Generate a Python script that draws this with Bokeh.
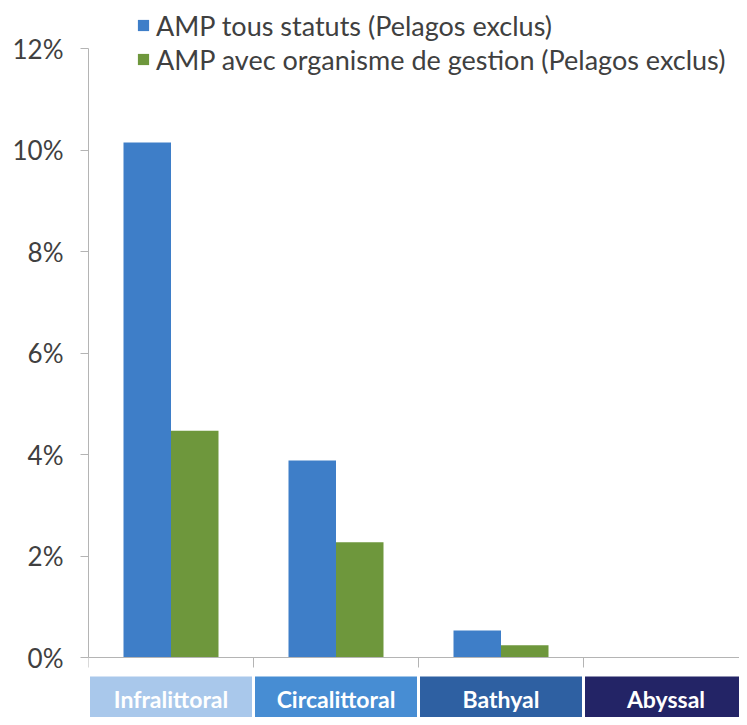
from bokeh.plotting import figure
from bokeh.models import Range1d, LinearAxis, FixedTicker, Legend, LegendItem, Span
from bokeh.core.properties import value
from bokeh.embed import file_html
from bokeh.resources import INLINE

# ---- data ----
categories = ["Infralittoral", "Circalittoral", "Bathyal", "Abyssal"]
amp_tous_statuts = [10.15, 3.88, 0.53, 0.0]
amp_avec_gestion = [4.47, 2.27, 0.24, 0.0]
series_names = ["AMP tous statuts (Pelagos exclus)",
                "AMP avec organisme de gestion (Pelagos exclus)"]
y_ticks = [0, 2, 4, 6, 8, 10, 12]
y_tick_labels = ["0%", "2%", "4%", "6%", "8%", "10%", "12%"]

# ---- styles ----
blue = "#3e7ec8"
green = "#6e973c"
band_colors = ["#a9c8eb", "#478dd3", "#2e60a2", "#232466"]
text_color = "#404040"
axis_color = "#b4b4b4"

W, H = 739, 717
LEFT = 88
PX_X = 165.0          # pixels per category
PX_Y = 50.75          # pixels per percent
ZERO_Y = 657          # figure pixel row of 0%
x_end = (W - LEFT) / PX_X
y_end = ZERO_Y / PX_Y
y_start = -(H - ZERO_Y) / PX_Y

p = figure(width=W, height=H, x_range=Range1d(0, x_end), y_range=Range1d(y_start, y_end),
           x_axis_type=None, y_axis_type=None, output_backend="svg", toolbar_location=None,
           min_border_left=LEFT, min_border_right=0, min_border_top=0, min_border_bottom=0)
p.outline_line_color = None
p.background_fill_color = "white"
p.border_fill_color = "white"

n = len(categories)
centers = [i + 0.5 for i in range(n)]
bar_w = 47.5 / PX_X
x_blue = [c - bar_w / 2 for c in centers]
x_green = [c + bar_w / 2 for c in centers]

r1 = p.vbar(x=x_blue, top=amp_tous_statuts, bottom=0, width=bar_w,
            fill_color=blue, line_color=None)
r2 = p.vbar(x=x_green, top=amp_avec_gestion, bottom=0, width=bar_w,
            fill_color=green, line_color=None)

# y axis
yaxis = LinearAxis(bounds=(0, 12), ticker=FixedTicker(ticks=y_ticks),
                   major_label_overrides={t: l for t, l in zip(y_ticks, y_tick_labels)})
yaxis.axis_line_color = axis_color
yaxis.major_tick_line_color = axis_color
yaxis.major_tick_out = 8
yaxis.major_tick_in = 0
yaxis.minor_tick_line_color = None
yaxis.major_label_standoff = 17
yaxis.major_label_text_font = "Lato"
yaxis.major_label_text_font_size = "26px"
yaxis.major_label_text_color = text_color
p.add_layout(yaxis, "left")

# x baseline and category ticks
p.add_layout(Span(location=0, dimension="width", line_color=axis_color, line_width=1))
bounds = list(range(n + 1))
tick_len = 10 / PX_Y
p.segment(x0=bounds, y0=[0] * len(bounds), x1=bounds, y1=[-tick_len] * len(bounds),
          line_color=axis_color, line_width=1)

# category bands
gap = 1.5 / PX_X
band_top = -19 / PX_Y
p.quad(left=[i + gap for i in range(n)], right=[i + 1 - gap for i in range(n)],
       top=band_top, bottom=y_start, fill_color=band_colors, line_color=None)
p.text(x=centers, y=[-41 / PX_Y] * n, text=categories, text_color="white",
       text_font=value("Lato"), text_font_style="bold", text_font_size="23px",
       text_align="center", text_baseline="middle")

legend = Legend(items=[LegendItem(label=series_names[0], renderers=[r1]),
                       LegendItem(label=series_names[1], renderers=[r2])],
                location=(48, 641), orientation="vertical", padding=0, margin=0,
                spacing=0, glyph_width=14, glyph_height=14, label_height=34,
                label_standoff=6, label_text_font="Lato", label_text_font_size="27px",
                label_text_color=text_color, border_line_color=None,
                background_fill_alpha=0)
p.add_layout(legend)

open("out.html", "w").write(file_html(p, INLINE))
